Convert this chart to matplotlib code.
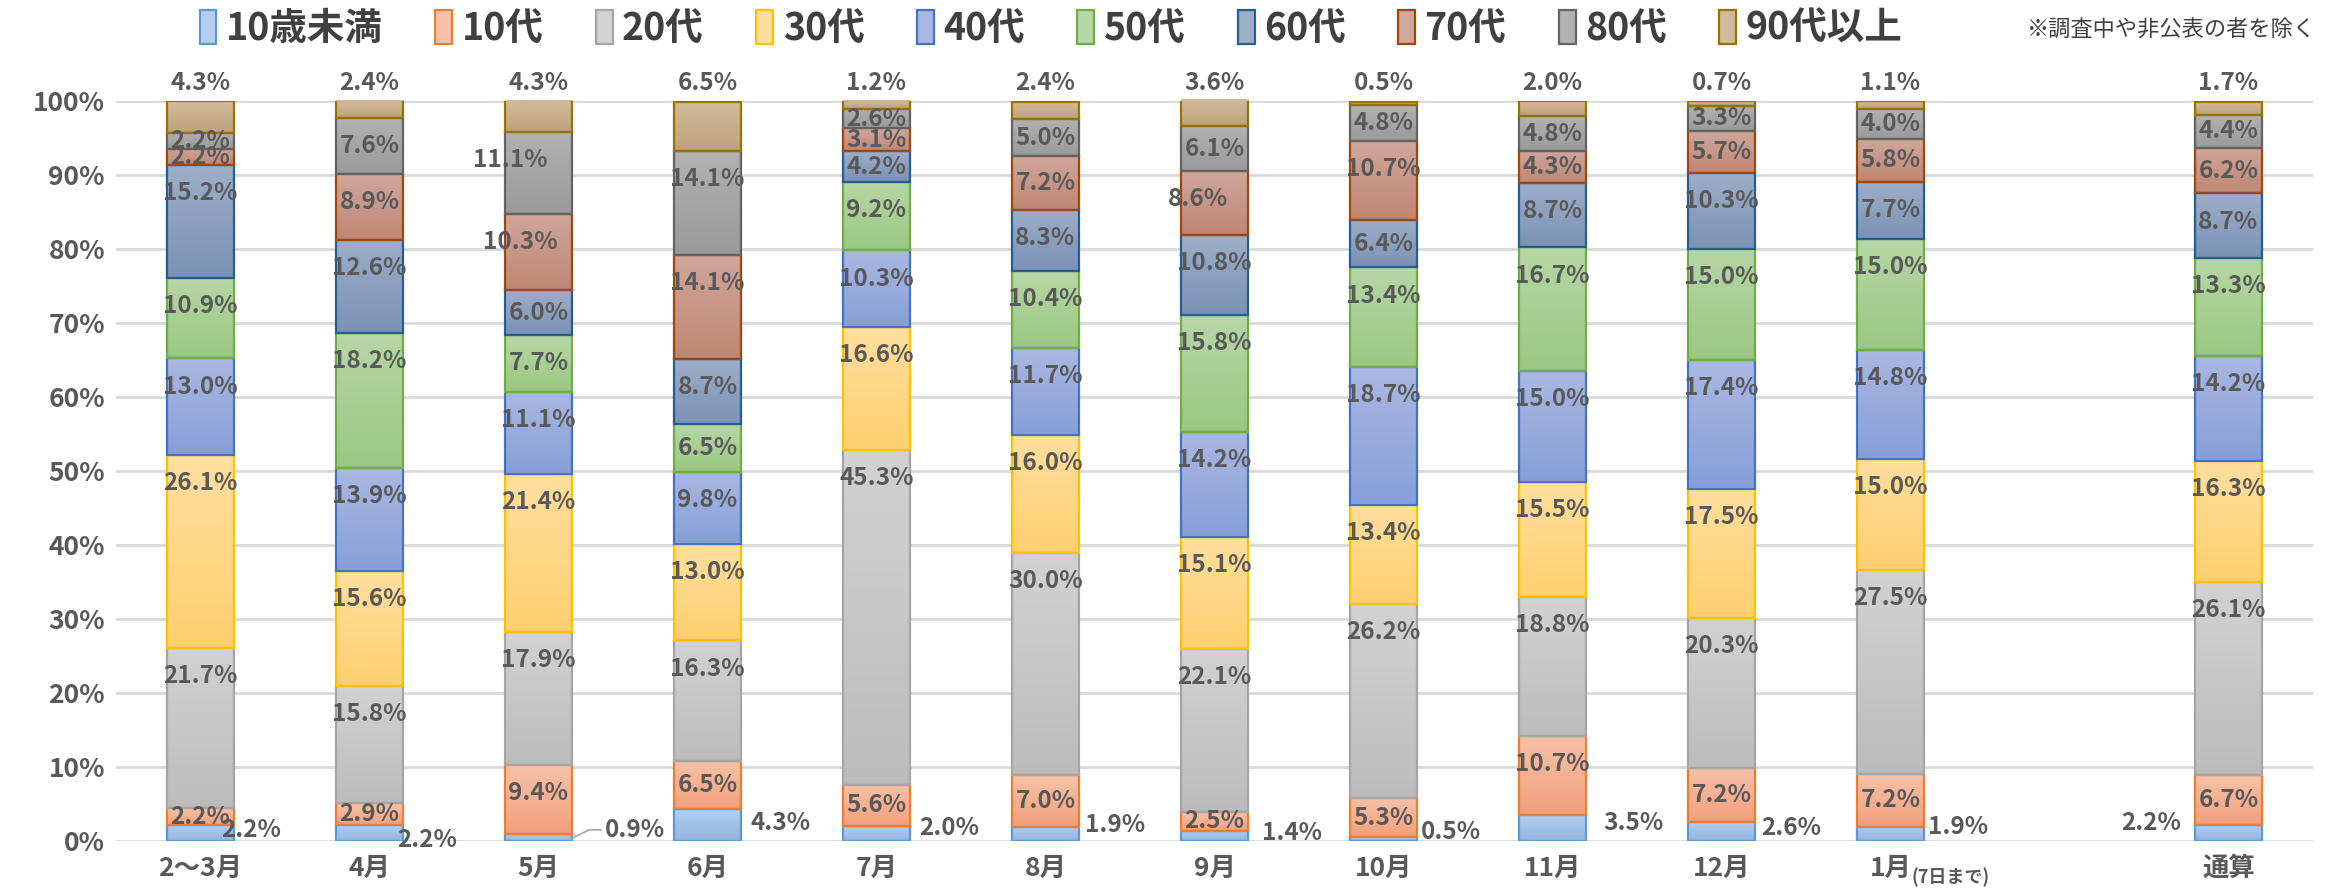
import matplotlib
matplotlib.use("Agg")
import matplotlib.pyplot as plt
import numpy as np
from matplotlib.colors import LinearSegmentedColormap
from matplotlib.patches import Patch

plt.rcParams['font.family'] = ['Noto Sans CJK JP', 'DejaVu Sans']

# data (percent), bottom to top
months = ['2～3月', '4月', '5月', '6月', '7月', '8月', '9月', '10月', '11月', '12月', '1月', '', '通算']
ages = ['10歳未満', '10代', '20代', '30代', '40代', '50代', '60代', '70代', '80代', '90代以上']

u10 = [2.2, 2.2, 0.9, 4.3, 2.0, 1.9, 1.4, 0.5, 3.5, 2.6, 1.9, np.nan, 2.2]
a10 = [2.2, 2.9, 9.4, 6.5, 5.6, 7.0, 2.5, 5.3, 10.7, 7.2, 7.2, np.nan, 6.7]
a20 = [21.7, 15.8, 17.9, 16.3, 45.3, 30.0, 22.1, 26.2, 18.8, 20.3, 27.5, np.nan, 26.1]
a30 = [26.1, 15.6, 21.4, 13.0, 16.6, 16.0, 15.1, 13.4, 15.5, 17.5, 15.0, np.nan, 16.3]
a40 = [13.0, 13.9, 11.1, 9.8, 10.3, 11.7, 14.2, 18.7, 15.0, 17.4, 14.8, np.nan, 14.2]
a50 = [10.9, 18.2, 7.7, 6.5, 9.2, 10.4, 15.8, 13.4, 16.7, 15.0, 15.0, np.nan, 13.3]
a60 = [15.2, 12.6, 6.0, 8.7, 4.2, 8.3, 10.8, 6.4, 8.7, 10.3, 7.7, np.nan, 8.7]
a70 = [2.2, 8.9, 10.3, 14.1, 3.1, 7.2, 8.6, 10.7, 4.3, 5.7, 5.8, np.nan, 6.2]
a80 = [2.2, 7.6, 11.1, 14.1, 2.6, 5.0, 6.1, 4.8, 4.8, 3.3, 4.0, np.nan, 4.4]
a90 = [4.3, 2.4, 4.3, 6.5, 1.2, 2.4, 3.6, 0.5, 2.0, 0.7, 1.1, np.nan, 1.7]
series = [u10, a10, a20, a30, a40, a50, a60, a70, a80, a90]

# styles: (top colour, bottom colour, edge)
styles = [('#B4CEEE', '#92B5E2', '#5B9BD5'),
          ('#F7C2A8', '#F2A07C', '#ED7D31'),
          ('#D2D2D2', '#BCBCBC', '#A5A5A5'),
          ('#FFDE9E', '#FFD070', '#FFC000'),
          ('#AAB8E2', '#879FD8', '#4472C4'),
          ('#B6D7A6', '#9BC882', '#70AD47'),
          ('#9EAEC9', '#7A92B6', '#255E91'),
          ('#D0A79C', '#C08674', '#9E480E'),
          ('#B2B2B2', '#9A9A9A', '#636363'),
          ('#D2BB9C', '#BEA27C', '#997300')]

# label placement for the 10歳未満 labels (offset in slots, y in %)
u10_dx = [0.30, 0.34, 0.57, 0.43, 0.43, 0.41, 0.46, 0.40, 0.48, 0.41, 0.40, 0, -0.46]
u10_y = [1.5, 0.1, 1.5, 2.4, 1.8, 2.2, 1.1, 1.2, 2.4, 1.8, 1.9, 0, 2.4]
shift_x = {(2, 8): -0.17, (2, 7): -0.11, (6, 7): -0.10}

txt = '#595959'
lfs = 17.5
fig = plt.figure(figsize=(23.25, 8.92), dpi=100)
ax = fig.add_axes([0.0499, 0.0572, 0.9449, 0.8296])

x = np.arange(len(months))
w = 0.40
bottom = np.zeros(len(months))
for k, vals in enumerate(series):
    v = np.array(vals, dtype=float)
    ok = ~np.isnan(v)
    top_c, bot_c, edge = styles[k]
    cmap = LinearSegmentedColormap.from_list('g%d' % k, [bot_c, top_c])
    bars = ax.bar(x[ok], v[ok], w, bottom=bottom[ok], facecolor='none', edgecolor=edge,
                  linewidth=1.6, zorder=3)
    for r in bars:
        x0, y0 = r.get_x(), r.get_y()
        im = ax.imshow(np.linspace(0, 1, 64).reshape(-1, 1), cmap=cmap,
                       extent=[x0, x0 + w, y0, y0 + r.get_height()],
                       origin='lower', aspect='auto', zorder=2,
                       interpolation='bilinear')
        im.set_clip_path(r)
    v = np.nan_to_num(v)
    for i in x[ok]:
        lab = '%.1f%%' % vals[i]
        top = bottom[i] + v[i]
        if k == 0:
            ax.text(i + u10_dx[i], u10_y[i], lab, ha='center', va='center',
                    fontsize=lfs, color=txt, fontweight='bold', zorder=5)
        elif k == len(series) - 1:
            ax.text(i, 102.4, lab, ha='center', va='center', fontsize=lfs,
                    color=txt, fontweight='bold', clip_on=False, zorder=5)
        else:
            yy = max(bottom[i] + v[i] / 2, top - 3.8)
            ax.text(i + shift_x.get((i, k), 0), yy, lab, ha='center', va='center',
                    fontsize=lfs, color=txt, fontweight='bold', zorder=5)
    bottom += v

# leader line for 5月 0.9%
ax.plot([2 + w / 2, 2.30, 2.37], [0.4, 1.5, 1.5], color='#A6A6A6', lw=1.2, zorder=4)

ax.set_xlim(-0.5, len(months) - 0.5)
ax.set_ylim(0, 100)
ax.set_yticks(np.arange(0, 101, 10))
ax.set_yticklabels(['%d%%' % t for t in range(0, 101, 10)])
ax.set_xticks(x)
ax.set_xticklabels(months)
ax.tick_params(length=0, labelsize=19, colors=txt, pad=10)
ax.tick_params(axis='y', pad=8)
for t in ax.get_xticklabels():
    t.set_fontweight('bold')
for t in ax.get_yticklabels():
    t.set_fontweight('bold')
ax.annotate('(7日まで)', xy=(10, 0), xycoords=('data', 'axes fraction'),
            xytext=(15, -26), textcoords='offset points', ha='left', va='center',
            fontsize=13, color=txt, fontweight='bold')
ax.grid(axis='y', color='#D9D9D9', linewidth=2, zorder=0)
ax.set_axisbelow(True)
for s in ax.spines.values():
    s.set_visible(False)

handles = [Patch(facecolor=st[0], edgecolor=st[2], linewidth=1.6) for st in styles]
fig.legend(handles, ages, loc='center', bbox_to_anchor=(0.452, 0.968), ncol=10,
           frameon=False, handlelength=0.45, handleheight=1.0,
           handletextpad=0.25, columnspacing=1.4, labelcolor='#404040',
           prop={'size': 27, 'weight': 'bold'})
fig.text(0.996, 0.966, '※調査中や非公表の者を除く', ha='right', va='center',
         fontsize=16, color='#404040')

fig.savefig('out.png', dpi=100)
